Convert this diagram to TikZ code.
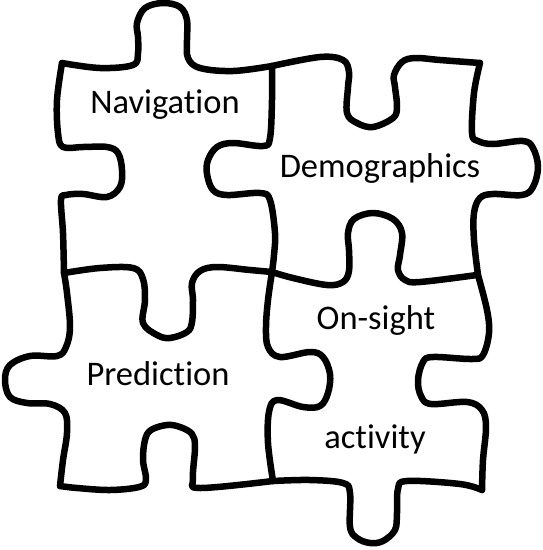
\documentclass[tikz,border=0pt]{standalone}
\usepackage{fontspec}
\setmainfont[Ligatures=NoCommon]{Carlito}
\begin{document}
\begin{tikzpicture}[x=1pt,y=-1pt,
  edge/.style={line width=6.5pt,line cap=round,line join=round},
  lbl/.style={anchor=base,inner sep=0pt,font=\fontsize{34.5}{40}\selectfont}]
\useasboundingbox (0,0) rectangle (542,550);
% Navigation top edge
\draw[edge] plot[smooth,tension=0.6] coordinates {(62,63) (100,68) (133,65) (138,53) (138,37) (137,23) (145,8) (163,3) (180,7) (187,20) (187,40) (188,58) (200,68) (233,71) (272,66)};
% Demographics top edge
\draw[edge] plot[smooth,tension=0.6] coordinates {(272,66) (320,57) (343,60) (349,72) (348,87) (347,113) (357,123) (373,127) (393,118) (397,107) (395,87) (394,75) (402,62) (415,58) (440,60) (480,63)};
% Demographics right edge
\draw[edge] plot[smooth,tension=0.6] coordinates {(480,63) (474,93) (472,133) (478,141) (493,144) (523,141) (533,148) (538,167) (533,187) (522,195) (493,194) (480,198) (474,213) (474,240) (478,275)};
% On-sight right edge
\draw[edge] plot[smooth,tension=0.6] coordinates {(478,275) (487,310) (489,333) (483,355) (472,359) (433,357) (423,362) (418,380) (421,396) (431,404) (467,402) (482,410) (486,427) (483,460) (482,490)};
% On-sight bottom edge
\draw[edge] plot[smooth,tension=0.6] coordinates {(482,490) (460,484) (407,481) (398,489) (397,513) (395,530) (383,541) (370,543) (357,538) (350,527) (350,493) (343,483) (310,480) (273,481)};
% Prediction bottom edge
\draw[edge] plot[smooth,tension=0.6] coordinates {(273,481) (200,488) (193,479) (195,447) (192,434) (180,427) (167,425) (151,430) (145,440) (143,460) (146,480) (139,487) (110,490) (77,488) (60,486)};
% Prediction left edge
\draw[edge] plot[smooth,tension=0.6] coordinates {(60,486) (63,460) (67,433) (65,413) (50,404) (27,403) (10,397) (5,380) (10,365) (30,356) (57,356) (66,347) (70,327) (67,293) (64,273)};
% Navigation left edge
\draw[edge] plot[smooth,tension=0.6] coordinates {(64,273) (63,233) (61,200) (66,195) (83,194) (107,197) (120,187) (122,170) (118,153) (107,147) (83,147) (63,147) (58,133) (57,100) (62,63)};
% Navigation bottom / Prediction top
\draw[edge] plot[smooth,tension=0.6] coordinates {(64,273) (100,268) (133,268) (143,279) (145,300) (143,323) (157,335) (170,338) (187,332) (192,322) (193,300) (192,283) (200,271) (217,267) (250,270) (272,272)};
% Navigation right / Demographics left
\draw[edge] plot[smooth,tension=0.6] coordinates {(272,66) (272,100) (270,138) (263,146) (233,143) (217,147) (208,160) (207,174) (213,190) (227,195) (260,193) (270,200) (275,233) (274,255) (272,272)};
% Demographics bottom / On-sight top
\draw[edge] plot[smooth,tension=0.6] coordinates {(272,272) (293,278) (327,285) (343,282) (349,271) (349,250) (348,233) (354,219) (373,213) (393,219) (402,233) (400,255) (398,270) (405,280) (420,282) (477,275)};
% Prediction right / On-sight left
\draw[edge] plot[smooth,tension=0.6] coordinates {(272,272) (268,300) (266,327) (268,347) (280,357) (310,352) (323,357) (330,374) (328,393) (320,406) (303,407) (277,400) (269,412) (268,443) (273,481)};
% labels
\node[lbl] (nav) at (165,113) {Navigation};
\node[lbl] (dem) at (380,177) {Demographics};
\node[lbl] (pre) at (158,385) {Prediction};
\node[lbl] (ons) at (376,329) {On-sight};
\node[lbl] (act) at (375,448) {activity};
\end{tikzpicture}
\end{document}
